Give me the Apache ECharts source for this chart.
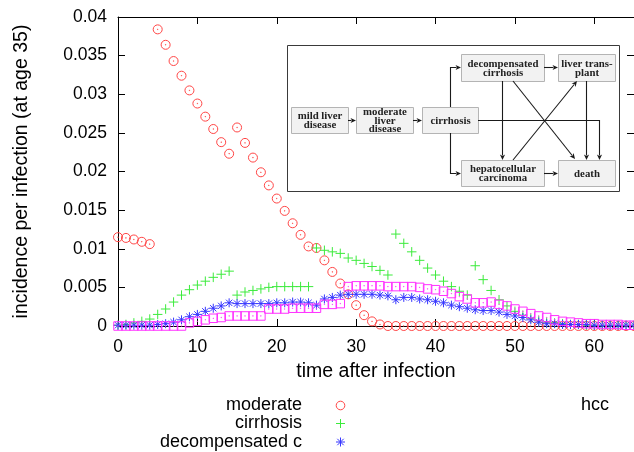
<!DOCTYPE html>
<html>
<head>
<meta charset="utf-8">
<script src="https://cdn.jsdelivr.net/npm/echarts@6/dist/echarts.min.js"></script>
<style>
  html, body { margin: 0; padding: 0; background: #fff; }
  #chart { width: 634px; height: 452px; }
</style>
</head>
<body>
<div id="chart"></div>
<script>
// Years since infection (0..65)
const years = Array.from({ length: 66 }, (_, i) => i);

// Incidence per infection, one value per year
const moderate = [
  0.0115, 0.0114, 0.0112, 0.0109, 0.0106, 0.0384, 0.0364, 0.0343, 0.0324, 0.0305,
  0.0288, 0.0271, 0.0255, 0.0238, 0.0223, 0.0257, 0.0237, 0.0218, 0.0199, 0.0182,
  0.0165, 0.0149, 0.0133, 0.0118, 0.0103, 0.0101, 0.0085, 0.0070, 0.0055, 0.0041,
  0.0027, 0.0014, 0.0006, 0.0002, 0, 0, 0, 0, 0, 0,
  0, 0, 0, 0, 0, 0, 0, 0, 0, 0,
  0, 0, 0, 0, 0, 0, 0, 0, 0, 0,
  0, 0, 0, 0, 0, 0
];
const cirrhosis = [
  0.0001, 0.0002, 0.0004, 0.0006, 0.0009, 0.0015, 0.0022, 0.0031, 0.0040, 0.0047,
  0.0053, 0.0058, 0.0063, 0.0067, 0.0071, 0.0040, 0.0044, 0.0046, 0.0048, 0.0050,
  0.0051, 0.0051, 0.0051, 0.0051, 0.0051, 0.0101, 0.0098, 0.0096, 0.0094, 0.0088,
  0.0085, 0.0081, 0.0077, 0.0072, 0.0066, 0.0119, 0.0107, 0.0096, 0.0085, 0.0075,
  0.0066, 0.0058, 0.0051, 0.0045, 0.0040, 0.0078, 0.0060, 0.0046, 0.0034, 0.0026,
  0.0019, 0.0014, 0.0010, 0.0007, 0.0005, 0.0004, 0.0003, 0.0002, 0.0002, 0.0001,
  0.0001, 0.0001, 0.0001, 0.0001, 0.0001, 0.0001
];
const decompensated = [
  0.0001, 0.0001, 0.0001, 0.0001, 0.0001, 0.0002, 0.0003, 0.0005, 0.0008, 0.0012,
  0.0015, 0.0019, 0.0023, 0.0026, 0.0030, 0.0029, 0.0029, 0.0029, 0.0029, 0.0029,
  0.0030, 0.0030, 0.0031, 0.0031, 0.0030, 0.0027, 0.0035, 0.0037, 0.0040, 0.0041,
  0.0041, 0.0041, 0.0041, 0.0040, 0.0039, 0.0034, 0.0037, 0.0037, 0.0035, 0.0034,
  0.0032, 0.0030, 0.0027, 0.0025, 0.0023, 0.0021, 0.0020, 0.0020, 0.0018, 0.0015,
  0.0013, 0.0011, 0.0008, 0.0005, 0.0003, 0.0003, 0.0002, 0.0002, 0.0002, 0.0002,
  0.0001, 0.0001, 0.0001, 0.0001, 0.0001, 0.0001
];
const hcc = [
  0, 0, 0, 0, 0, 0, 0, 0, 0, 0.0004,
  0.0006, 0.0008, 0.0010, 0.0011, 0.0013, 0.0013, 0.0013, 0.0013, 0.0013, 0.0022,
  0.0022, 0.0022, 0.0023, 0.0023, 0.0023, 0.0023, 0.0028, 0.0028, 0.0029, 0.0051,
  0.0052, 0.0052, 0.0052, 0.0052, 0.0051, 0.0051, 0.0051, 0.0051, 0.0050, 0.0048,
  0.0047, 0.0045, 0.0042, 0.0038, 0.0035, 0.0030, 0.0030, 0.0031, 0.0028, 0.0026,
  0.0022, 0.0019, 0.0016, 0.0013, 0.0011, 0.0008, 0.0006, 0.0005, 0.0004, 0.0003,
  0.0003, 0.0002, 0.0002, 0.0002, 0.0001, 0.0001
];

const seriesNames = ['moderate', 'cirrhosis', 'decompensated c', 'hcc'];
const xTicks = [0, 10, 20, 30, 40, 50, 60];
const yTicks = [0, 0.005, 0.01, 0.015, 0.02, 0.025, 0.03, 0.035, 0.04];

// Colours and point shapes (outlined, with a small centre dot)
const RED = 'rgb(255,70,70)';
const GREEN = 'rgb(60,235,60)';
const BLUE = 'rgb(55,55,255)';
const MAGENTA = 'rgb(255,50,255)';
const DOT = 'M4.75,4.75L5.25,4.75L5.25,5.25L4.75,5.25Z';
const SYM_CIRCLE = 'path://M10,5A5,5,0,1,1,0,5A5,5,0,1,1,10,5Z' + DOT;
const SYM_PLUS = 'path://M0,5L10,5M5,0L5,10';
const SYM_STAR = 'path://M0,5L10,5M5,0L5,10M1.5,1.5L8.5,8.5M8.5,1.5L1.5,8.5' + DOT;
const SYM_SQUARE = 'path://M0,0L10,0L10,10L0,10Z' + DOT;

function pairs(values) {
  return years.map((x, i) => [x, values[i]]);
}

function pointSeries(name, values, symbol, size, color) {
  return {
    name: name,
    type: 'scatter',
    data: pairs(values),
    symbol: symbol,
    symbolSize: size,
    silent: true,
    itemStyle: { color: 'transparent', borderColor: color, borderWidth: 1, opacity: 1 },
    emphasis: { disabled: true }
  };
}

// ---- flow diagram in the upper right corner ----
const FONT_SANS = 'Liberation Sans, Arial, Helvetica, sans-serif';
const FONT_SERIF = 'Liberation Serif, Times New Roman, serif';
const boxes = [
  { x: 291, y: 107, w: 57, h: 26, text: 'mild liver\ndisease' },
  { x: 356, y: 107, w: 57, h: 26, text: 'moderate\nliver\ndisease' },
  { x: 422, y: 107, w: 56, h: 26, text: 'cirrhosis' },
  { x: 461, y: 54, w: 83, h: 27, text: 'decompensated\ncirrhosis' },
  { x: 558, y: 54, w: 57, h: 27, text: 'liver trans-\nplant' },
  { x: 461, y: 160, w: 83, h: 26, text: 'hepatocellular\ncarcinoma' },
  { x: 558, y: 160, w: 57, h: 26, text: 'death' }
];
const arrows = [
  [[348, 120.5], [356, 120.5]],
  [[413, 120.5], [422, 120.5]],
  [[450.5, 107], [450.5, 67.5], [461, 67.5]],
  [[450.5, 133], [450.5, 173.5], [461, 173.5]],
  [[478, 120.5], [599.5, 120.5], [599.5, 160]],
  [[544, 67.5], [558, 67.5]],
  [[502.5, 81], [502.5, 160]],
  [[513, 81], [575, 159]],
  [[513, 160], [577, 81]],
  [[586.5, 81], [586.5, 160]],
  [[544, 173.5], [558, 173.5]]
];

function arrowElements(pts) {
  const n = pts.length;
  const [x1, y1] = pts[n - 2];
  const [x2, y2] = pts[n - 1];
  const len = Math.hypot(x2 - x1, y2 - y1);
  const ux = (x2 - x1) / len, uy = (y2 - y1) / len;
  const hl = 5.5, hw = 2.6;
  const bx = x2 - ux * hl, by = y2 - uy * hl;
  const linePts = pts.slice(0, n - 1).concat([[bx + ux * 1, by + uy * 1]]);
  return [
    { type: 'polyline', shape: { points: linePts }, style: { stroke: '#1a1a1a', lineWidth: 1.1, fill: null }, silent: true },
    {
      type: 'polygon',
      shape: { points: [[x2, y2], [bx - uy * hw, by + ux * hw], [bx + ux * 1.5, by + uy * 1.5], [bx + uy * hw, by - ux * hw]] },
      style: { fill: '#1a1a1a' }, silent: true
    }
  ];
}

const diagram = [
  { type: 'rect', shape: { x: 287.5, y: 45.5, width: 332, height: 146 }, style: { fill: '#fff', stroke: '#3a3a3a', lineWidth: 1 }, silent: true, z: 10 }
];
boxes.forEach(b => {
  diagram.push({ type: 'rect', shape: { x: b.x + 0.5, y: b.y + 0.5, width: b.w, height: b.h }, style: { fill: '#f2f2f2', stroke: '#b4b4b4', lineWidth: 1 }, silent: true, z: 11 });
  diagram.push({
    type: 'text', x: b.x + b.w / 2 + 0.5, y: b.y + b.h / 2 + 1, z: 13, silent: true,
    style: { text: b.text, fontFamily: FONT_SERIF, fontWeight: 'bold', fontSize: 10.8, lineHeight: 8.6, fill: '#222', align: 'center', verticalAlign: 'middle' }
  });
});
arrows.forEach(a => arrowElements(a).forEach(el => { el.z = 12; diagram.push(el); }));

// ---- key below the plot ----
const keyRows = [
  { name: seriesNames[0], x: 302, y: 405 },
  { name: seriesNames[1], x: 302, y: 423.5 },
  { name: seriesNames[2], x: 302, y: 442 },
  { name: seriesNames[3], x: 609, y: 405 }
];
const key = keyRows.map(r => ({
  type: 'text', x: r.x, y: r.y, silent: true,
  style: { text: r.name, fontFamily: FONT_SANS, fontSize: 18, fill: '#000', align: 'right', verticalAlign: 'middle' }
}));
key.push(
  { type: 'circle', shape: { cx: 340.5, cy: 405.5, r: 4.3 }, style: { fill: null, stroke: RED, lineWidth: 1 }, silent: true },
  { type: 'polyline', shape: { points: [[336, 423.5], [345, 423.5]] }, style: { stroke: GREEN, lineWidth: 1, fill: null }, silent: true },
  { type: 'polyline', shape: { points: [[340.5, 419], [340.5, 428]] }, style: { stroke: GREEN, lineWidth: 1, fill: null }, silent: true },
  { type: 'polyline', shape: { points: [[336, 442], [345, 442]] }, style: { stroke: BLUE, lineWidth: 1, fill: null }, silent: true },
  { type: 'polyline', shape: { points: [[340.5, 437.5], [340.5, 446.5]] }, style: { stroke: BLUE, lineWidth: 1, fill: null }, silent: true },
  { type: 'polyline', shape: { points: [[337.3, 438.8], [343.7, 445.2]] }, style: { stroke: BLUE, lineWidth: 1, fill: null }, silent: true },
  { type: 'polyline', shape: { points: [[343.7, 438.8], [337.3, 445.2]] }, style: { stroke: BLUE, lineWidth: 1, fill: null }, silent: true }
);

const axisCommon = {
  type: 'value',
  axisLine: { show: true, onZero: false, lineStyle: { color: '#000', width: 1 } },
  axisTick: { show: true, inside: true, length: 7, lineStyle: { color: '#000', width: 1 } },
  splitLine: { show: false }
};

const chart = echarts.init(document.getElementById('chart'), null, { renderer: 'canvas' });
chart.setOption({
  animation: false,
  backgroundColor: '#fff',
  grid: { left: 118, top: 17, width: 518, height: 309, containLabel: false },
  xAxis: [
    Object.assign({}, axisCommon, {
      position: 'bottom', min: 0, max: 65, interval: 10,
      name: 'time after infection', nameLocation: 'middle', nameGap: 36,
      nameTextStyle: { fontFamily: FONT_SANS, fontSize: 19.5, color: '#000' },
      axisLabel: {
        fontFamily: FONT_SANS, fontSize: 17.5, color: '#000', margin: 12, showMaxLabel: false,
        formatter: v => (xTicks.indexOf(v) >= 0 ? String(v) : '')
      }
    }),
    Object.assign({}, axisCommon, { position: 'top', min: 0, max: 65, interval: 10, axisLabel: { show: false } })
  ],
  yAxis: [
    Object.assign({}, axisCommon, {
      position: 'left', min: 0, max: 0.04, interval: 0.005,
      name: 'incidence per infection (at age 35)', nameLocation: 'middle', nameGap: 86,
      nameTextStyle: { fontFamily: FONT_SANS, fontSize: 19.5, color: '#000' },
      axisLabel: {
        fontFamily: FONT_SANS, fontSize: 17.5, color: '#000', margin: 11, padding: [3, 0, 0, 0],
        formatter: v => {
          const t = yTicks.find(k => Math.abs(k - v) < 1e-9);
          return t === undefined ? '' : String(t);
        }
      }
    }),
    Object.assign({}, axisCommon, { position: 'right', min: 0, max: 0.04, interval: 0.005, axisLabel: { show: false } })
  ],
  series: [
    pointSeries(seriesNames[0], moderate, SYM_CIRCLE, 9, RED),
    pointSeries(seriesNames[1], cirrhosis, SYM_PLUS, 9.5, GREEN),
    pointSeries(seriesNames[2], decompensated, SYM_STAR, 9, BLUE),
    pointSeries(seriesNames[3], hcc, SYM_SQUARE, 8.5, MAGENTA)
  ],
  graphic: diagram.concat(key)
});
</script>
</body>
</html>
